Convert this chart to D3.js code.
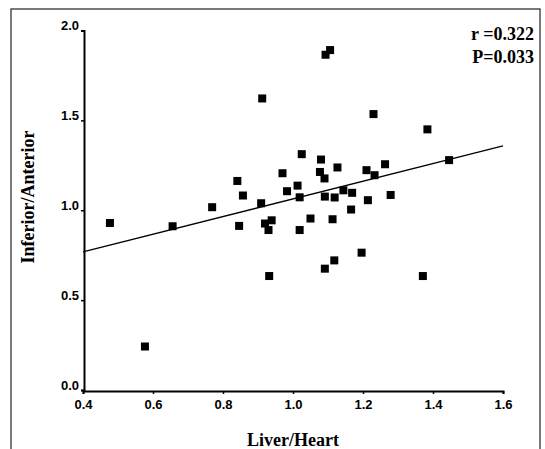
<!DOCTYPE html>
<html><head><meta charset="utf-8">
<script src="https://cdn.jsdelivr.net/npm/d3@7"></script>
<style>body{margin:0;background:#fff}svg{display:block}</style>
</head><body>
<svg id="c" width="545" height="449"></svg>
<script>
const liverHeart = [0.477,0.577,0.656,0.769,0.841,0.857,0.846,0.909,0.912,0.920,0.930,0.939,0.932,0.970,0.983,1.013,1.019,1.019,1.025,1.050,1.080,1.077,1.090,1.091,1.091,1.093,1.106,1.113,1.119,1.127,1.118,1.144,1.169,1.166,1.196,1.210,1.214,1.230,1.233,1.263,1.279,1.371,1.384,1.446];
const inferiorAnterior = [0.929,0.242,0.911,1.017,1.163,1.082,0.913,1.039,1.622,0.926,0.890,0.944,0.634,1.206,1.106,1.137,1.072,0.890,1.312,0.954,1.282,1.213,1.177,1.076,0.675,1.865,1.891,0.950,1.071,1.238,0.721,1.111,1.097,1.004,0.764,1.223,1.056,1.535,1.195,1.256,1.085,0.634,1.450,1.279];
const fitX = [0.4, 1.6];
const fitY = [0.768, 1.358];
const xTicks = [0.4,0.6,0.8,1.0,1.2,1.4,1.6];
const yTicks = [0.0,0.5,1.0,1.5,2.0];
const statLines = ["r =0.322","P=0.033"];
const xTitle = "Liver/Heart", yTitle = "Inferior/Anterior";

const svg = d3.select("#c");
const x = d3.scaleLinear().domain([0.4,1.6]).range([83,503]);
const y = d3.scaleLinear().domain([0,2]).range([390,30.5]);

// outer frame
svg.append("rect").attr("x",11).attr("y",9).attr("width",529).attr("height",460)
  .attr("fill","none").attr("stroke","#222").attr("stroke-width",1.2);

const sans = "Liberation Sans, Arial, sans-serif", serif = "Liberation Serif, Times New Roman, serif";

const xa = svg.append("g").attr("transform","translate(0,391)")
  .call(d3.axisBottom(x).tickValues(xTicks).tickFormat(d3.format(".1f")).tickSize(3).tickPadding(6));
const ya = svg.append("g").attr("transform","translate(84,0)")
  .call(d3.axisLeft(y).tickValues(yTicks).tickFormat(d3.format(".1f")).tickSize(3).tickPadding(2));
[xa,ya].forEach(a=>{
  a.select(".domain").attr("stroke","#000").attr("stroke-width",2);
  a.selectAll(".tick line").attr("stroke","#000").attr("stroke-width",1.5);
  a.selectAll("text").attr("fill","#000").attr("font-family",sans).attr("font-weight","bold").attr("font-size",13);
});
ya.selectAll("text").attr("dy","-0.05em");

// regression line
svg.append("path").datum(fitX.map((v,i)=>[v,fitY[i]]))
  .attr("d",d3.line().x(d=>x(d[0])).y(d=>y(d[1])))
  .attr("fill","none").attr("stroke","#000").attr("stroke-width",1.3);

// points
const s = 8;
svg.append("g").selectAll("rect").data(liverHeart.map((v,i)=>[v,inferiorAnterior[i]]))
  .join("rect").attr("x",d=>x(d[0])-s/2).attr("y",d=>y(d[1])-s/2)
  .attr("width",s).attr("height",s).attr("fill","#000");

// titles
svg.append("text").attr("x",293).attr("y",446).attr("text-anchor","middle")
  .attr("font-family",serif).attr("font-weight","bold").attr("font-size",18).text(xTitle);
svg.append("text").attr("transform","translate(34,197) rotate(-90)").attr("text-anchor","middle")
  .attr("font-family",serif).attr("font-weight","bold").attr("font-size",18).text(yTitle);

// stats
svg.selectAll("text.stat").data(statLines).join("text").attr("class","stat")
  .attr("x",534).attr("y",(d,i)=>40+i*23).attr("text-anchor","end")
  .attr("font-family",serif).attr("font-weight","bold").attr("font-size",18).text(d=>d);
</script>
</body></html>
